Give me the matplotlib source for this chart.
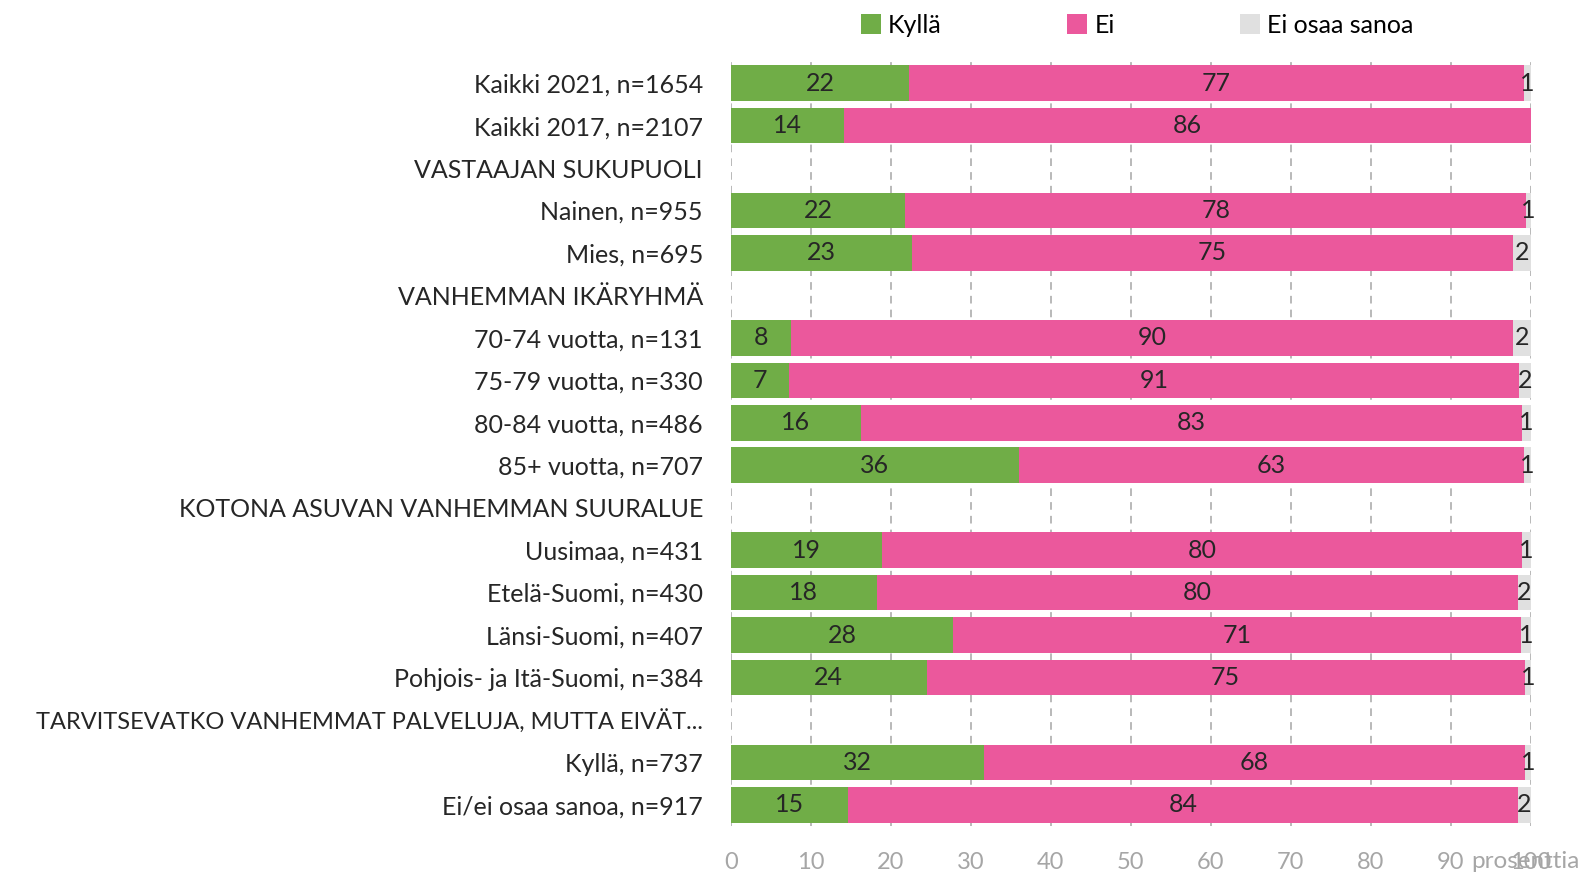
import numpy as np
import matplotlib
matplotlib.use("Agg")
import matplotlib.pyplot as plt

plt.rcParams['font.family'] = ['Lato', 'DejaVu Sans']

# Rivit ylhäältä alas (otsikkorivit ilman arvoja)
categories = [
    "Kaikki 2021, n=1654", "Kaikki 2017, n=2107", "VASTAAJAN SUKUPUOLI",
    "Nainen, n=955", "Mies, n=695", "VANHEMMAN IKÄRYHMÄ",
    "70-74 vuotta, n=131", "75-79 vuotta, n=330", "80-84 vuotta, n=486",
    "85+ vuotta, n=707", "KOTONA ASUVAN VANHEMMAN SUURALUE",
    "Uusimaa, n=431", "Etelä-Suomi, n=430", "Länsi-Suomi, n=407",
    "Pohjois- ja Itä-Suomi, n=384",
    "TARVITSEVATKO VANHEMMAT PALVELUJA, MUTTA EIVÄT...",
    "Kyllä, n=737", "Ei/ei osaa sanoa, n=917",
]
kylla = [22.3, 14.1, 0, 21.8, 22.7, 0, 7.6, 7.3, 16.3, 36.0, 0,
         18.9, 18.3, 27.8, 24.5, 0, 31.6, 14.6]
ei = [76.8, 85.9, 0, 77.6, 75.0, 0, 90.2, 91.2, 82.6, 63.1, 0,
      80.0, 80.1, 70.9, 74.7, 0, 67.6, 83.8]
eos = [0.9, 0, 0, 0.6, 2.3, 0, 2.2, 1.5, 1.1, 0.9, 0,
       1.1, 1.6, 1.3, 0.8, 0, 0.8, 1.6]

green = '#70AD47'
pink = '#EB589C'
grey = '#E0E0E0'
txt = '#262626'
fs = 18

fig = plt.figure(figsize=(15.86, 8.73), dpi=100)
ax = fig.add_axes([0.4607, 0.0538, 0.5046, 0.8752])

y = np.arange(len(categories))
kylla = np.array(kylla)
ei = np.array(ei)
eos = np.array(eos)
h = 0.84

b1 = ax.barh(y, kylla, height=h, color=green, label='Kyllä', zorder=2)
b2 = ax.barh(y, ei, left=kylla, height=h, color=pink, label='Ei', zorder=2)
b3 = ax.barh(y, eos, left=kylla + ei, height=h, color=grey, label='Ei osaa sanoa', zorder=2)

for bars, vals in [(b1, kylla), (b2, ei), (b3, eos)]:
    labels = ['%.0f' % v if v > 0 else '' for v in vals]
    ax.bar_label(bars, labels=labels, label_type='center', fontsize=fs, color=txt)

ax.set_xlim(0, 100)
ax.set_ylim(len(categories) - 0.5, -0.5)
ax.set_xticks(range(0, 101, 10))
ax.set_yticks(y)
ax.set_yticklabels(categories, fontsize=fs, color=txt)
# pitkä otsikko hieman pienemmällä, jotta mahtuu kuvaan
for lab in ax.get_yticklabels():
    if len(lab.get_text()) > 40:
        lab.set_fontsize(17)
ax.tick_params(axis='y', length=0, pad=20)
ax.tick_params(axis='x', length=0, pad=19, labelsize=fs - 1, labelcolor='#A6A6A6')
ax.grid(axis='x', color='#A6A6A6', linestyle=(0, (5, 4)), linewidth=1.1, zorder=0)
for s in ax.spines.values():
    s.set_visible(False)

ax.text(0.925, -0.046, 'prosenttia', transform=ax.transAxes, fontsize=fs - 0.5,
        color='#A6A6A6', va='center', ha='left')

ax.legend(loc='lower left', bbox_to_anchor=(0.15, 1.02), ncol=3, frameon=False,
          fontsize=fs, handlelength=0.8, handleheight=0.8, handletextpad=0.3,
          columnspacing=5.0, borderaxespad=0)

fig.savefig('out.png', dpi=100)
